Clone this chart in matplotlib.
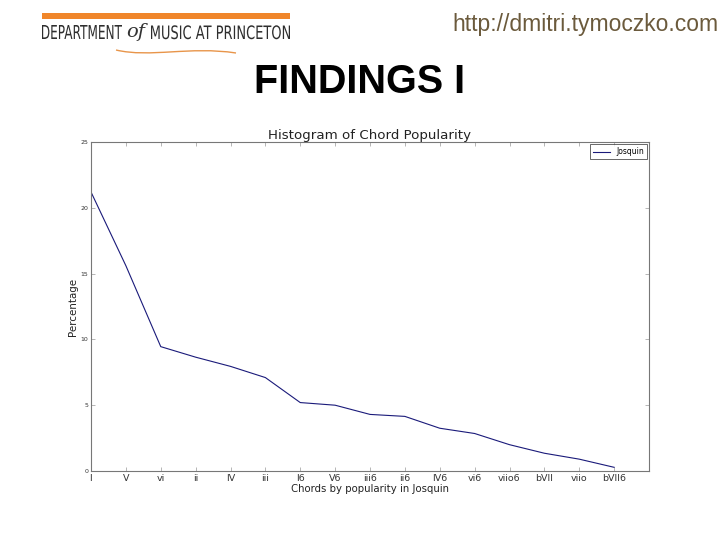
import matplotlib.pyplot as plt
from matplotlib.patches import Rectangle, PathPatch
from matplotlib.textpath import TextPath
from matplotlib.font_manager import FontProperties
from matplotlib.transforms import Affine2D, IdentityTransform
from matplotlib.path import Path

# chord popularity data
chords = ['I', 'V', 'vi', 'ii', 'IV', 'iii', 'I6', 'V6', 'iii6', 'ii6',
          'IV6', 'vi6', 'viio6', 'bVII', 'viio', 'bVII6']
josquin = [21.2, 15.6, 9.45, 8.65, 7.95, 7.1, 5.2, 5.0, 4.3, 4.15,
           3.25, 2.85, 2.0, 1.35, 0.9, 0.28]
yticks = [0, 5, 10, 15, 20, 25]

W, H = 720, 540
fig = plt.figure(figsize=(7.2, 5.4), dpi=100)
fig.patch.set_facecolor('white')


def squeezed_text(s, x0, x1, base, cap, color, **fontkw):
    # condensed lettering: squeeze a text path into a box (pixels from top-left)
    tp = TextPath((0, 0), s, size=1, prop=FontProperties(**fontkw))
    bb = tp.get_extents()
    sx = (x1 - x0) / bb.width
    sy = cap / bb.height
    tr = Affine2D().translate(-bb.x0, 0).scale(sx, sy).translate(x0, H - base)
    fig.patches.append(PathPatch(tr.transform_path(tp), facecolor=color,
                                 edgecolor='none', transform=IdentityTransform()))


### Header: logo bar, department name, url and slide title
fig.patches.append(Rectangle((42/W, 1-19/H), 248/W, 6/H,
                             transform=fig.transFigure, facecolor='#F0862A',
                             linewidth=0))
squeezed_text("DEPARTMENT", 42, 122, 39, 14, '#2E2E2E', family='DejaVu Sans')
squeezed_text("MUSIC AT PRINCETON", 151, 290, 39, 14, '#2E2E2E', family='DejaVu Sans')
fig.text(136/W, 1-32/H, "of", fontsize=14, color='#333333',
         style='italic', family='DejaVu Serif', va='center', ha='center')
# orange swoosh under the logo
swoosh = Path([(116, H-50), (150, H-58), (190, H-46), (236, H-53)],
              [Path.MOVETO, Path.CURVE4, Path.CURVE4, Path.CURVE4])
fig.patches.append(PathPatch(swoosh, facecolor='none', edgecolor='#E8954A',
                             linewidth=1.0, transform=IdentityTransform()))

fig.text(719/W, 1-25/H, "http://dmitri.tymoczko.com", fontsize=16.5,
         color='#6B5A3C', family='Liberation Sans', va='center', ha='right')
fig.text(360/W, 1-82/H, "FINDINGS I", fontsize=28.5, weight='bold',
         family='Liberation Sans', va='center', ha='center')

### The chart
ax = fig.add_axes([91/W, 1-471/H, 558/W, 329/H])
ax.plot(range(len(chords)), josquin, color='#1A1A7A', linewidth=0.8,
        label='Josquin')
ax.set_xlim(0, 16)
ax.set_ylim(0, 25)
ax.set_xticks(range(len(chords)))
ax.set_xticklabels(chords, fontsize=6.8, color='#333333')
ax.set_yticks(yticks)
ax.set_yticklabels([str(t) for t in yticks], fontsize=4.5, color='#333333')
ax.tick_params(direction='in', top=True, right=True, length=3, width=0.5,
               color='#999999', pad=2)
for s in ax.spines.values():
    s.set_color('#777777')
    s.set_linewidth(0.8)

ax.set_title("Histogram of Chord Popularity", fontsize=9.6, color='#222222', pad=2)
ax.set_xlabel("Chords by popularity in Josquin", fontsize=7.3, color='#222222',
              labelpad=1)
ax.set_ylabel("Percentage", fontsize=7.4, color='#222222', labelpad=2)

leg = ax.legend(loc='upper right', fontsize=5.5, frameon=True, fancybox=False,
                handlelength=2.2, borderaxespad=0.3)
leg.get_frame().set_edgecolor('#222222')
leg.get_frame().set_linewidth(0.6)

plt.savefig('out.png', dpi=100, facecolor='white')
